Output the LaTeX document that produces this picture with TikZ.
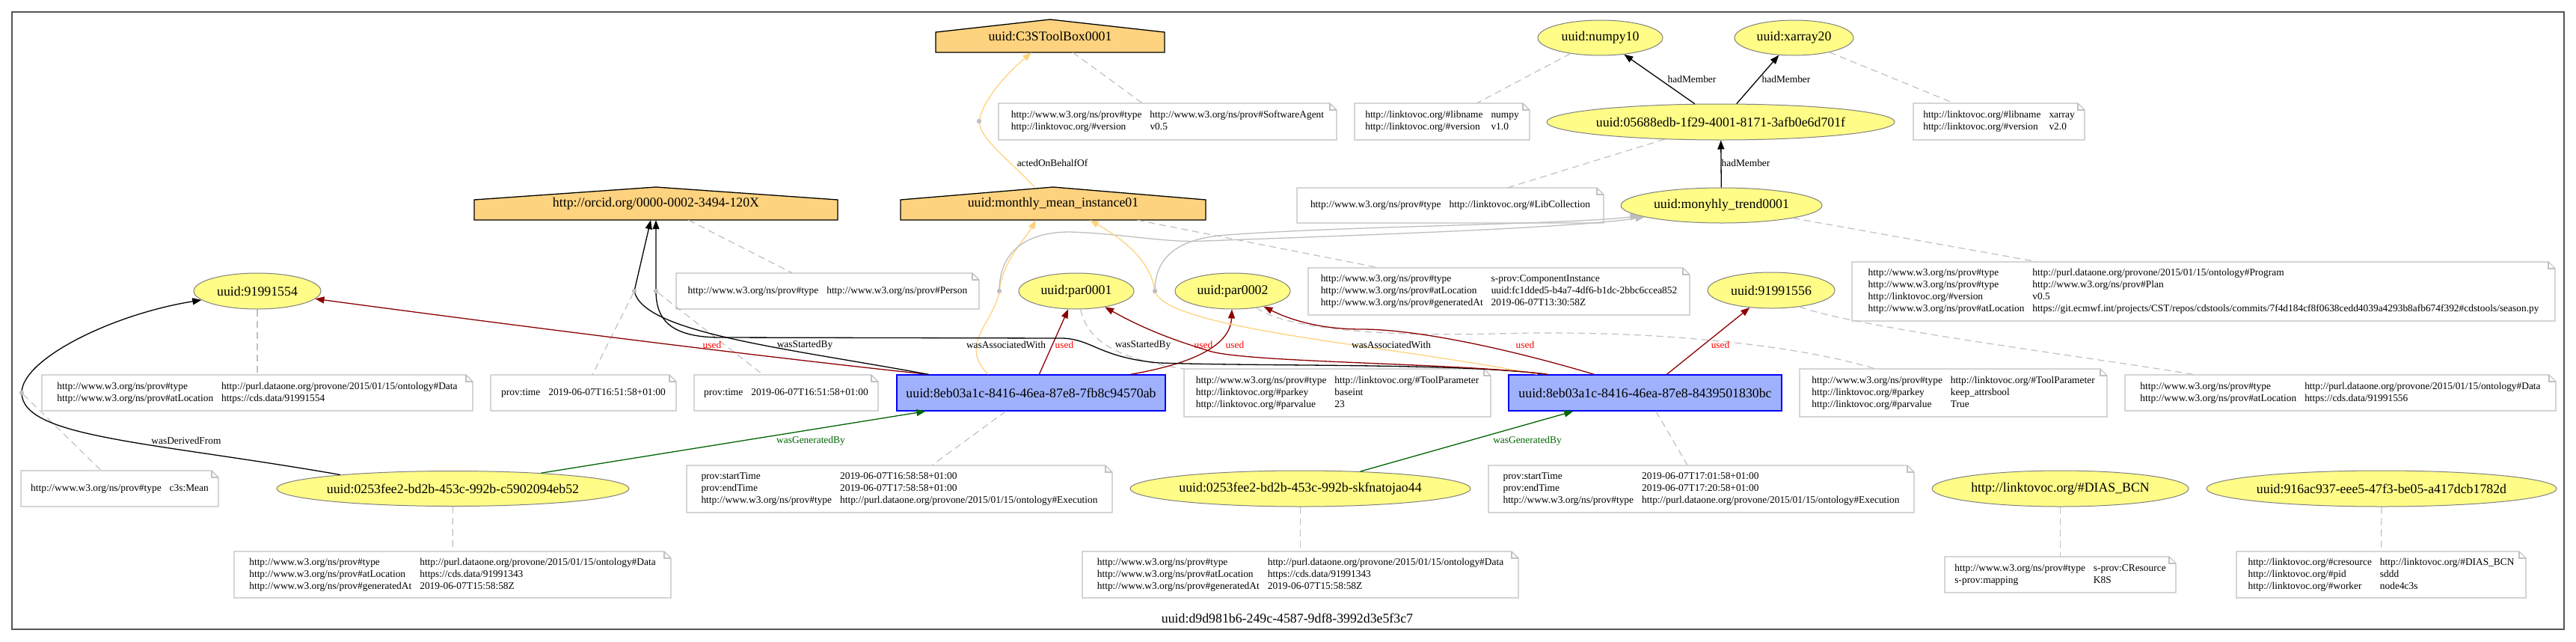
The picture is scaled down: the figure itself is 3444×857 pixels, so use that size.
\documentclass[tikz,border=0pt]{standalone}
\usepackage{fontspec}
\setmainfont{Liberation Serif}
\usetikzlibrary{shapes.geometric,arrows.meta}
\definecolor{entfill}{HTML}{FFFC87}
\definecolor{entdraw}{HTML}{808080}
\definecolor{agfill}{HTML}{FED37F}
\definecolor{actfill}{HTML}{9FB1FC}
\definecolor{actdraw}{HTML}{0000FF}
\definecolor{notedraw}{HTML}{C0C0C0}
\definecolor{usedc}{HTML}{8B0000}
\definecolor{usedt}{HTML}{FF0000}
\definecolor{genc}{HTML}{006400}
\definecolor{orangec}{HTML}{FED37F}
\definecolor{planc}{HTML}{BEBEBE}
\definecolor{framec}{HTML}{555555}
\newcommand{\bigf}{\fontsize{17.8}{21}\selectfont}
\newcommand{\smallf}{\fontsize{13.4}{16}\selectfont}
\tikzset{
 ent/.style={ellipse, draw=entdraw, fill=entfill, line width=1pt, inner sep=0pt, font=\bigf},
 act/.style={rectangle, draw=actdraw, fill=actfill, line width=1.3pt, inner sep=0pt, font=\bigf},
 agentbody/.style={draw=black, fill=agfill, line width=1.3pt},
 notebody/.style={draw=notedraw, fill=white, line width=1.1pt},
 notefold/.style={draw=notedraw, line width=1.1pt},
 notetext/.style={inner sep=0pt, font=\smallf},
 pdot/.style={circle, fill=planc, draw=none, minimum size=6pt, inner sep=0pt},
 arrtip/.style={-{Triangle[length=12pt,width=9pt]}},
 eblack/.style={arrtip, draw=black, line width=1.3pt},
 eused/.style={arrtip, draw=usedc, line width=1.3pt},
 egen/.style={arrtip, draw=genc, line width=1.3pt},
 eorange/.style={arrtip, draw=orangec, line width=1.3pt},
 eplan/.style={arrtip, draw=planc, line width=1.3pt},
 eann/.style={draw=notedraw, line width=1.2pt, dash pattern=on 9pt off 6pt},
 lab/.style={font=\smallf, inner sep=0pt},
 labr/.style={lab, text=usedt},
 labg/.style={lab, text=genc},
}
\newcommand{\provnote}[6]{%
  \pgfmathsetmacro\pnW{#4-#2}%
  \pgfmathsetmacro\pnH{#5-#3}%
  \pgfmathsetmacro\pnX{(#2+#4)/2}%
  \pgfmathsetmacro\pnY{(#3+#5)/2}%
  \pgfmathsetmacro\pnF{#4-9}%
  \pgfmathsetmacro\pnG{#3+9}%
  \draw[notebody] (#2,#3) -- (\pnF,#3) -- (#4,\pnG) -- (#4,#5) -- (#2,#5) -- cycle;
  \draw[notefold] (\pnF,#3) -- (\pnF,\pnG) -- (#4,\pnG);
  \node[notetext, minimum width=\pnW pt, minimum height=\pnH pt] (#1) at (\pnX,\pnY)
    {\makebox[0pt]{\begin{tabular}{@{}l@{\hspace{11pt}}l@{}}#6\end{tabular}}};
}
\newcommand{\provhouse}[7]{%
  \pgfmathsetmacro\phW{#3-#2}%
  \pgfmathsetmacro\phH{#6-#4}%
  \pgfmathsetmacro\phX{(#2+#3)/2}%
  \pgfmathsetmacro\phY{(#4+#6)/2}%
  \draw[agentbody] (#2,#6) -- (#2,#5) -- (\phX,#4) -- (#3,#5) -- (#3,#6) -- cycle;
  \node[inner sep=0pt, minimum width=\phW pt, minimum height=\phH pt, font=\bigf] (#1) at (\phX,\phY)
    {\raisebox{-3pt}{\makebox[0pt]{#7}}};
}
\begin{document}
\begin{tikzpicture}[x=1pt,y=-1pt]
\useasboundingbox (0,0) rectangle (3444,857);
\draw[framec, line width=1.5pt] (16,16) rectangle (3428,841);
\node[font=\bigf, inner sep=0pt] (clab) at (1721,826) {uuid:d9d981b6-249c-4587-9df8-3992d3e5f3c7};

% notes
\provnote{n554}{56}{501}{632}{549}{http://www.w3.org/ns/prov\#type & http://purl.dataone.org/provone/2015/01/15/ontology\#Data\\ http://www.w3.org/ns/prov\#atLocation & https://cds.data/91991554}
\provnote{nMean}{28}{629}{292}{677}{http://www.w3.org/ns/prov\#type & c3s:Mean}
\provnote{nc59}{313}{737}{897}{799}{http://www.w3.org/ns/prov\#type & http://purl.dataone.org/provone/2015/01/15/ontology\#Data\\ http://www.w3.org/ns/prov\#atLocation & https://cds.data/91991343\\ http://www.w3.org/ns/prov\#generatedAt & 2019-06-07T15:58:58Z}
\provnote{nT1}{656}{501}{904}{549}{prov:time & 2019-06-07T16:51:58+01:00}
\provnote{nT2}{928}{501}{1174}{549}{prov:time & 2019-06-07T16:51:58+01:00}
\provnote{nPerson}{904}{365}{1309}{413}{http://www.w3.org/ns/prov\#type & http://www.w3.org/ns/prov\#Person}
\provnote{nEx1}{918}{622}{1487}{685}{prov:startTime & 2019-06-07T16:58:58+01:00\\ prov:endTime & 2019-06-07T17:58:58+01:00\\ http://www.w3.org/ns/prov\#type & http://purl.dataone.org/provone/2015/01/15/ontology\#Execution}
\provnote{nSW}{1335}{138}{1787}{187}{http://www.w3.org/ns/prov\#type & http://www.w3.org/ns/prov\#SoftwareAgent\\ http://linktovoc.org/\#version & v0.5}
\provnote{nNumpy}{1811}{138}{2045}{187}{http://linktovoc.org/\#libname & numpy\\ http://linktovoc.org/\#version & v1.0}
\provnote{nXarray}{2558}{138}{2787}{187}{http://linktovoc.org/\#libname & xarray\\ http://linktovoc.org/\#version & v2.0}
\provnote{nLib}{1734}{251}{2144}{298}{http://www.w3.org/ns/prov\#type & http://linktovoc.org/\#LibCollection}
\provnote{nComp}{1749}{358}{2259}{421}{http://www.w3.org/ns/prov\#type & s-prov:ComponentInstance\\ http://www.w3.org/ns/prov\#atLocation & uuid:fc1dded5-b4a7-4df6-b1dc-2bbc6ccea852\\ http://www.w3.org/ns/prov\#generatedAt & 2019-06-07T13:30:58Z}
\provnote{nProg}{2476}{350}{3416}{429}{http://www.w3.org/ns/prov\#type & http://purl.dataone.org/provone/2015/01/15/ontology\#Program\\ http://www.w3.org/ns/prov\#type & http://www.w3.org/ns/prov\#Plan\\ http://linktovoc.org/\#version & v0.5\\ http://www.w3.org/ns/prov\#atLocation & https://git.ecmwf.int/projects/CST/repos/cdstools/commits/7f4d184cf8f0638cedd4039a4293b8afb674f392\#cdstools/season.py}
\provnote{nTP1}{1583}{493}{1993}{557}{http://www.w3.org/ns/prov\#type & http://linktovoc.org/\#ToolParameter\\ http://linktovoc.org/\#parkey & baseint\\ http://linktovoc.org/\#parvalue & 23}
\provnote{nTP2}{2406}{493}{2817}{557}{http://www.w3.org/ns/prov\#type & http://linktovoc.org/\#ToolParameter\\ http://linktovoc.org/\#parkey & keep\_attrsbool\\ http://linktovoc.org/\#parvalue & True}
\provnote{nEx2}{1990}{622}{2559}{685}{prov:startTime & 2019-06-07T17:01:58+01:00\\ prov:endTime & 2019-06-07T17:20:58+01:00\\ http://www.w3.org/ns/prov\#type & http://purl.dataone.org/provone/2015/01/15/ontology\#Execution}
\provnote{n556}{2841}{501}{3417}{549}{http://www.w3.org/ns/prov\#type & http://purl.dataone.org/provone/2015/01/15/ontology\#Data\\ http://www.w3.org/ns/prov\#atLocation & https://cds.data/91991556}
\provnote{nSkf}{1447}{737}{2030}{799}{http://www.w3.org/ns/prov\#type & http://purl.dataone.org/provone/2015/01/15/ontology\#Data\\ http://www.w3.org/ns/prov\#atLocation & https://cds.data/91991343\\ http://www.w3.org/ns/prov\#generatedAt & 2019-06-07T15:58:58Z}
\provnote{nDias}{2600}{744}{2909}{792}{http://www.w3.org/ns/prov\#type & s-prov:CResource\\ s-prov:mapping & K8S}
\provnote{n916}{2990}{737}{3377}{799}{http://linktovoc.org/\#cresource & http://linktovoc.org/\#DIAS\_BCN\\ http://linktovoc.org/\#pid & sddd\\ http://linktovoc.org/\#worker & node4c3s}

% agents
\provhouse{c3s}{1251}{1557}{26}{43}{70}{uuid:C3SToolBox0001}
\provhouse{orcid}{634}{1120}{250}{267}{294}{http://orcid.org/0000-0002-3494-120X}
\provhouse{monthly}{1204}{1612}{250}{267}{294}{uuid:monthly\_mean\_instance01}

% entities
\node[ent, minimum width=170pt, minimum height=48pt] (e554) at (344,389) {\makebox[0pt]{uuid:91991554}};
\node[ent, minimum width=471pt, minimum height=47pt] (c59) at (605.5,653) {\makebox[0pt]{uuid:0253fee2-bd2b-453c-992b-c5902094eb52}};
\node[ent, minimum width=154pt, minimum height=48pt] (par1) at (1439,389) {\makebox[0pt]{uuid:par0001}};
\node[ent, minimum width=154pt, minimum height=48pt] (par2) at (1648,389) {\makebox[0pt]{uuid:par0002}};
\node[ent, minimum width=167pt, minimum height=47pt] (numpy) at (2139.5,50.5) {\makebox[0pt]{uuid:numpy10}};
\node[ent, minimum width=159pt, minimum height=47pt] (xarray) at (2398.5,50.5) {\makebox[0pt]{uuid:xarray20}};
\node[ent, minimum width=465pt, minimum height=48pt] (lib) at (2300.5,163) {\makebox[0pt]{uuid:05688edb-1f29-4001-8171-3afb0e6d701f}};
\node[ent, minimum width=269pt, minimum height=47pt] (trend) at (2301.5,274.5) {\makebox[0pt]{uuid:monyhly\_trend0001}};
\node[ent, minimum width=170pt, minimum height=48pt] (e556) at (2368,388) {\makebox[0pt]{uuid:91991556}};
\node[ent, minimum width=455pt, minimum height=48pt] (skf) at (1738.5,653) {\makebox[0pt]{uuid:0253fee2-bd2b-453c-992b-skfnatojao44}};
\node[ent, minimum width=343pt, minimum height=48pt] (dias) at (2754.5,653) {\makebox[0pt]{http://linktovoc.org/\#DIAS\_BCN}};
\node[ent, minimum width=468pt, minimum height=48pt] (w916) at (3184,653) {\makebox[0pt]{uuid:916ac937-eee5-47f3-be05-a417dcb1782d}};

% activities
\node[act, minimum width=359pt, minimum height=48pt] (a1) at (1378.5,525) {\makebox[0pt]{uuid:8eb03a1c-8416-46ea-87e8-7fb8c94570ab}};
\node[act, minimum width=365pt, minimum height=48pt] (a2) at (2199.5,525) {\makebox[0pt]{uuid:8eb03a1c-8416-46ea-87e8-8439501830bc}};

% relation points
\node[pdot] (dDer) at (29,525) {};
\node[pdot] (dS1) at (848,389) {};
\node[pdot] (dS2) at (877,389) {};
\node[pdot] (dA1) at (1336,389) {};
\node[pdot] (dA2) at (1544,389) {};
\node[pdot] (dB) at (1309,162) {};

% annotation links
\draw[eann] (e554) -- (n554);
\draw[eann] (c59) -- (nc59);
\draw[eann] (dDer) -- (nMean);
\draw[eann] (orcid) -- (nPerson);
\draw[eann] (dS1) -- (nT1);
\draw[eann] (dS2) -- (nT2);
\draw[eann] (c3s) -- (nSW);
\draw[eann] (numpy) -- (nNumpy);
\draw[eann] (xarray) -- (nXarray);
\draw[eann] (lib) -- (nLib);
\draw[eann] (monthly) -- (nComp);
\draw[eann] (trend) -- (nProg);
\draw[eann] (par1) .. controls (1455,460) and (1500,480) .. (nTP1);
\draw[eann] (par2) .. controls (1720,440) and (1850,450) .. (2000,446) .. controls (2200,440) and (2400,460) .. (nTP2);
\draw[eann] (a1) -- (nEx1);
\draw[eann] (a2) -- (nEx2);
\draw[eann] (e556.-30) .. controls (2480,438) and (2800,478) .. ([xshift=94pt]n556.north west);
\draw[eann] (skf) -- (nSkf);
\draw[eann] (dias) -- (nDias);
\draw[eann] (w916) -- (n916);

% wasDerivedFrom
\draw[eblack] (c59.173) .. controls (200,590) and (30,585) .. (dDer.center) .. controls (29,480) and (150,420) .. (e554);
\node[lab] (lDer) at (249,589) {wasDerivedFrom};

% activity a1
\draw[eused] ([xshift=43pt]a1.north west) .. controls (1000,475) and (650,430) .. (e554);
\node[labr] (lU1) at (952,461) {used};
\draw[eblack] ([xshift=43pt]a1.north west) .. controls (1050,465) and (860,445) .. (dS1.center) -- ([xshift=-7pt]orcid.south);
\node[lab] (lS1) at (1076,461) {wasStartedBy};
\draw[eorange] ([xshift=123pt]a1.north west) .. controls (1280,460) and (1330,430) .. (dA1.center) .. controls (1340,350) and (1370,320) .. ([xshift=-23pt]monthly.south);
\node[lab] (lA1) at (1345,461) {wasAssociatedWith};
\draw[eplan] (dA1.center) .. controls (1336,330) and (1380,310) .. (1430,310) .. controls (1500,312) and (1560,325) .. (1610,322) .. controls (1800,315) and (2100,305) .. (trend);
\draw[eused] ([xshift=191pt]a1.north west) -- (par1);
\node[labr] (lU2) at (1423,461) {used};
\draw[eused] ([xshift=313pt]a1.north west) .. controls (1600,485) and (1645,460) .. (par2);
\node[labr] (lU3) at (1651,461) {used};
\draw[egen] (c59.10) -- ([xshift=39pt]a1.south west);
\node[labg] (lG1) at (1084,589) {wasGeneratedBy};

% activity a2
\draw[eblack] ([xshift=52pt]a2.north west) .. controls (1950,485) and (1700,490) .. (1550,485) .. controls (1470,478) and (1460,453) .. (1420,452) -- (960,451) .. controls (900,450) and (877,430) .. (dS2.center) -- (orcid.south);
\node[lab] (lS2) at (1528,461) {wasStartedBy};
\draw[eorange] ([xshift=39pt]a2.north west) .. controls (1850,460) and (1560,440) .. (dA2.center) .. controls (1540,360) and (1520,330) .. ([xshift=49pt]monthly.south);
\node[lab] (lA2) at (1860,461) {wasAssociatedWith};
\draw[eplan] (dA2.center) .. controls (1544,340) and (1580,318) .. (1640,314) .. controls (1800,302) and (2100,300) .. (trend);
\draw[eused] ([xshift=53pt]a2.north west) .. controls (1950,485) and (1680,485) .. (1620,470) .. controls (1570,455) and (1530,440) .. (par1);
\node[labr] (lU4) at (1609,461) {used};
\draw[eused] ([xshift=115pt]a2.north west) .. controls (2030,470) and (1900,440) .. (1820,440) .. controls (1760,440) and (1720,425) .. (par2);
\node[labr] (lU5) at (2039,461) {used};
\draw[eused] ([xshift=212pt]a2.north west) -- (e556);
\node[labr] (lU6) at (2300,461) {used};
\draw[egen] (skf.16) -- ([xshift=87pt]a2.south west);
\node[labg] (lG2) at (2042,589) {wasGeneratedBy};

% actedOnBehalfOf
\draw[eorange] ([xshift=-25pt]monthly.north) .. controls (1345,210) and (1310,185) .. (dB.center) .. controls (1315,130) and (1350,95) .. ([xshift=-25pt]c3s.south);
\node[lab] (lB) at (1407,218) {actedOnBehalfOf};

% hadMember
\draw[eblack] (lib) -- (numpy);
\node[lab] (lH1) at (2262,106) {hadMember};
\draw[eblack] (lib) -- (xarray);
\node[lab] (lH2) at (2388,106) {hadMember};
\draw[eblack] (trend) -- (lib);
\node[lab] (lH3) at (2334,218) {hadMember};

% points on top
\foreach \p in {dDer,dS1,dS2,dA1,dA2,dB} \fill[planc] (\p) circle (3pt);
\end{tikzpicture}
\end{document}
